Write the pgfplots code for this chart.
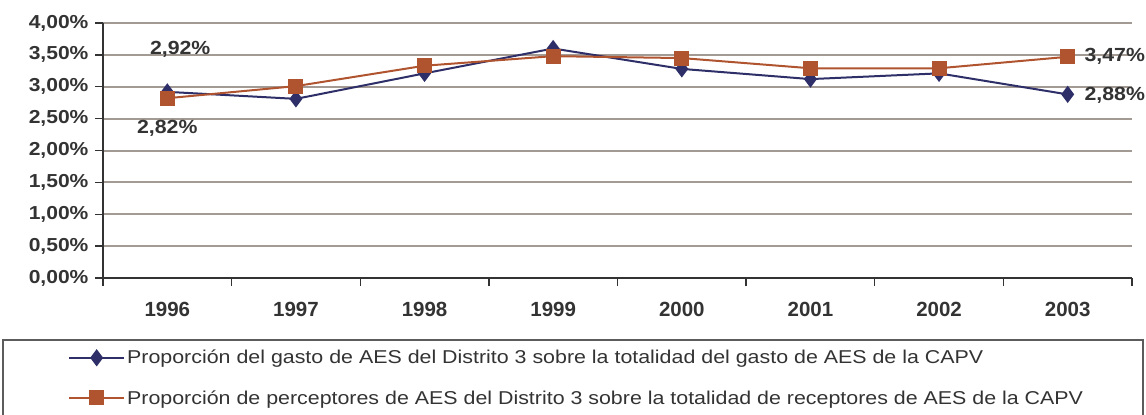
\documentclass[border=0pt]{standalone}
\usepackage{fontspec}
\setmainfont{Liberation Sans}
\newfontfamily\tickfont[FakeStretch=1.12]{Liberation Sans}
\newfontfamily\legfont[FakeStretch=1.15]{Liberation Sans}
\usepackage{pgfplots}
\pgfplotsset{compat=1.18}
\definecolor{serA}{HTML}{2E2F68}
\definecolor{serB}{HTML}{B05430}
\definecolor{gridc}{HTML}{A39A94}
\definecolor{txt}{HTML}{333333}

\begin{document}
\begin{tikzpicture}
\begin{axis}[
    name=ax,
    scale only axis,
    width=1029bp, height=255bp,
    xmin=-0.5, xmax=7.5, ymin=0, ymax=4,
    clip mode=individual,
    axis lines*=left,
    axis line style={draw=txt, line width=1.3bp},
    xtick={0,...,7},
    xticklabels={1996,1997,1998,1999,2000,2001,2002,2003},
    major x tick style={draw=none},
    minor xtick={-0.5,0.5,...,7.5},
    minor tick length=8bp,
    minor x tick style={draw=txt, line width=1.3bp},
    ytick={0,0.5,...,4},
    yticklabels={{0,00\%},{0,50\%},{1,00\%},{1,50\%},{2,00\%},{2,50\%},{3,00\%},{3,50\%},{4,00\%}},
    major tick length=8bp,
    major y tick style={draw=txt, line width=1.3bp},
    tick align=outside,
    ymajorgrids,
    grid style={draw=gridc, line width=2bp},
    ticklabel style={font=\tickfont\bfseries\fontsize{18.8bp}{20bp}\selectfont, text=txt},
    xticklabel style={yshift=-13bp, font=\bfseries\fontsize{20.5bp}{22bp}\selectfont},
    yticklabel style={xshift=-3bp},
    legend style={draw=none, fill=none, at={(rel axis cs:0,0)}, anchor=north west,
        xshift=-38bp, yshift=-68bp, row sep=21bp,
        font=\legfont\fontsize{18.6bp}{20bp}\selectfont, text=txt},
    legend cell align=left,
    legend image code/.code={\draw[mark repeat=2,mark phase=2] plot coordinates {(0bp,0bp) (27.5bp,0bp) (55bp,0bp)};},
]
\addplot[serA, line width=2bp, mark=diamond*, mark size=7bp, mark options={solid, fill=serA}]
  coordinates {(0,2.92) (1,2.81) (2,3.21) (3,3.60) (4,3.28) (5,3.12) (6,3.21) (7,2.88)};
\addplot[serB, line width=2bp, mark=square*, mark size=6.5bp, mark options={solid, fill=serB}]
  coordinates {(0,2.82) (1,3.01) (2,3.33) (3,3.48) (4,3.45) (5,3.29) (6,3.29) (7,3.47)};
\legend{Proporción del gasto de AES del Distrito 3 sobre la totalidad del gasto de AES de la CAPV,
        Proporción de perceptores de AES del Distrito 3 sobre la totalidad de receptores de AES de la CAPV}
\node[font=\tickfont\bfseries\fontsize{19bp}{20bp}\selectfont, text=txt] at (axis cs:0.1,3.58) {2,92\%};
\node[font=\tickfont\bfseries\fontsize{19bp}{20bp}\selectfont, text=txt] at (axis cs:0.0,2.35) {2,82\%};
\node[font=\tickfont\bfseries\fontsize{19bp}{20bp}\selectfont, text=txt, anchor=west, inner sep=0pt] at (axis cs:7.13,3.48) {3,47\%};
\node[font=\tickfont\bfseries\fontsize{19bp}{20bp}\selectfont, text=txt, anchor=west, inner sep=0pt] at (axis cs:7.13,2.87) {2,88\%};
\end{axis}
\draw[draw=txt!80, line width=1.5bp] ([xshift=-100bp,yshift=-62bp]ax.south west) rectangle ([xshift=1040bp,yshift=-150bp]ax.south west);
\pgfresetboundingbox
\path[use as bounding box] ([xshift=-103bp,yshift=-137bp]ax.south west) rectangle ([xshift=1043bp,yshift=278bp]ax.south west);
\end{tikzpicture}
\end{document}
